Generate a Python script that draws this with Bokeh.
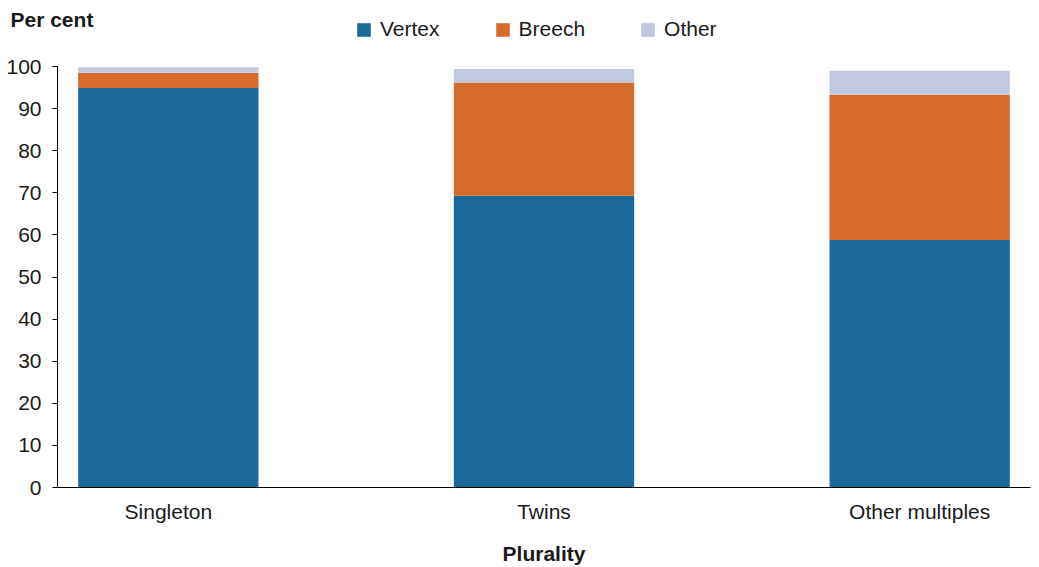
from bokeh.plotting import figure
from bokeh.models import FactorRange, Range1d, Legend, LegendItem, FixedTicker, ColumnDataSource
from bokeh.embed import file_html
from bokeh.resources import INLINE

categories = ["Singleton", "Twins", "Other multiples"]
vertex = [94.9, 69.3, 58.8]
breech = [3.6, 26.9, 34.5]
other = [1.3, 3.2, 5.7]
series = ["Vertex", "Breech", "Other"]
colors = ["#1c6a9b", "#d66b2c", "#c1c9e0"]
y_ticks = list(range(0, 101, 10))

FONT = "Liberation Sans"
TXT = "#1a1a1a"
FS = "21px"

source = ColumnDataSource(dict(cat=categories, Vertex=vertex, Breech=breech, Other=other))

# frame spans from the top legend row down to the x axis; axis line limited to 0..100
p = figure(
    x_range=FactorRange(factors=categories, range_padding=-0.205, range_padding_units="absolute"),
    y_range=Range1d(0, 112.83),
    width=1039, height=567,
    output_backend="svg", toolbar_location=None,
    min_border_left=57, min_border_right=9, min_border_top=12, min_border_bottom=80,
    title="Per cent",
)
p.outline_line_color = None
p.xgrid.visible = False
p.ygrid.visible = False

p.title.text_font = FONT
p.title.text_font_size = FS
p.title.text_font_style = "bold"
p.title.text_color = TXT
p.title.align = "left"
p.title.offset = -47
p.title.standoff = -36

renderers = p.vbar_stack(series, x="cat", width=0.48, color=colors, line_color=None, source=source)

# y axis
p.yaxis.bounds = (0, 100)
p.yaxis.ticker = FixedTicker(ticks=y_ticks)
p.yaxis.major_tick_out = 5
p.yaxis.major_tick_in = 0
p.yaxis.minor_tick_line_color = None
p.yaxis.major_label_standoff = 11
p.yaxis.axis_line_color = "black"
p.yaxis.major_tick_line_color = "black"
p.yaxis.major_label_text_font = FONT
p.yaxis.major_label_text_font_size = FS
p.yaxis.major_label_text_color = TXT

# x axis
p.xaxis.major_tick_out = 0
p.xaxis.major_tick_in = 0
p.xaxis.minor_tick_line_color = None
p.xaxis.major_tick_line_color = None
p.xaxis.axis_line_color = "black"
p.xaxis.major_label_standoff = 12
p.xaxis.major_label_text_font = FONT
p.xaxis.major_label_text_font_size = FS
p.xaxis.major_label_text_color = TXT
p.xaxis.axis_label = "Plurality"
p.xaxis.axis_label_standoff = 16
p.xaxis.axis_label_text_font = FONT
p.xaxis.axis_label_text_font_size = FS
p.xaxis.axis_label_text_font_style = "bold"
p.xaxis.axis_label_text_color = TXT

legend = Legend(
    items=[LegendItem(label=s, renderers=[r]) for s, r in zip(series, renderers)],
    orientation="horizontal",
    location=(298, 446),
    glyph_width=17, glyph_height=17,
    label_standoff=8, spacing=54,
    label_text_font=FONT, label_text_font_size=FS, label_text_color=TXT,
    border_line_color=None, background_fill_alpha=0,
    padding=0, margin=0,
)
p.add_layout(legend, "center")

open("out.html", "w").write(file_html(p, INLINE))
